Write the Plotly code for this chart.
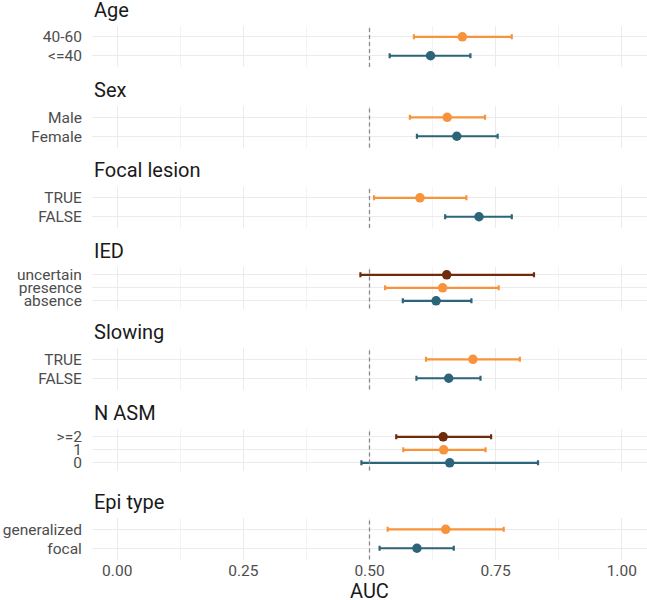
import plotly.graph_objects as go
from plotly.subplots import make_subplots

# ---------------- data ----------------
facet_order = ["Age", "Sex", "Focal lesion", "IED", "Slowing", "N ASM", "Epi type"]
facet = ["Age", "Age", "Sex", "Sex", "Focal lesion", "Focal lesion",
         "IED", "IED", "IED", "Slowing", "Slowing",
         "N ASM", "N ASM", "N ASM", "Epi type", "Epi type"]
level = ["<=40", "40-60", "Female", "Male", "FALSE", "TRUE",
         "absence", "presence", "uncertain", "FALSE", "TRUE",
         "0", "1", ">=2", "focal", "generalized"]
auc = [0.621, 0.684, 0.673, 0.654, 0.717, 0.600,
       0.632, 0.645, 0.653, 0.657, 0.705,
       0.659, 0.647, 0.646, 0.594, 0.651]
lower = [0.540, 0.588, 0.594, 0.580, 0.650, 0.509,
         0.566, 0.531, 0.482, 0.593, 0.612,
         0.484, 0.567, 0.553, 0.520, 0.536]
upper = [0.700, 0.782, 0.754, 0.729, 0.782, 0.692,
         0.702, 0.756, 0.826, 0.720, 0.798,
         0.834, 0.730, 0.741, 0.667, 0.766]
x_ticks = [0.0, 0.25, 0.5, 0.75, 1.0]
x_tick_labels = ["0.00", "0.25", "0.50", "0.75", "1.00"]
reference_auc = 0.5
x_title = "AUC"

# ---------------- style ----------------
palette = ["#2C6479", "#F7943B", "#6E2C0C"]
FONT = "Roboto"
W, H = 647, 600
M_T, M_B, M_L, M_R = 0, 40, 92, 0
PH = H - M_T - M_B
panel_tops = [25.5, 106, 186.5, 267, 348, 429, 518]
panel_h = 41.6
grid_col = "#ebebeb"
minor_col = "#f3f3f3"

n = len(facet_order)
fig = make_subplots(rows=n, cols=1, shared_xaxes=True, vertical_spacing=0.01)

minor_vals = [(a + b) / 2 for a, b in zip(x_ticks[:-1], x_ticks[1:])]

for i, f in enumerate(facet_order):
    idx = [k for k in range(len(facet)) if facet[k] == f]
    levs = [level[k] for k in idx]
    for j, k in enumerate(idx):
        c = palette[j]
        fig.add_trace(go.Scatter(
            x=[auc[k]], y=[level[k]], mode="markers",
            marker=dict(color=c, size=9.5, line=dict(width=0)),
            error_x=dict(type="data", symmetric=False,
                         array=[upper[k] - auc[k]],
                         arrayminus=[auc[k] - lower[k]],
                         color=c, thickness=2.2, width=2.5),
            showlegend=False, hoverinfo="skip"),
            row=i + 1, col=1)
    top = panel_tops[i]
    dom = [1 - (top + panel_h) / PH, 1 - top / PH]
    ykey = "yaxis" if i == 0 else f"yaxis{i + 1}"
    xkey = "xaxis" if i == 0 else f"xaxis{i + 1}"
    fig.layout[ykey].update(
        domain=dom, type="category", categoryorder="array", categoryarray=levs,
        tickmode="array", tickvals=levs, ticktext=levs,
        range=[-0.6, len(levs) - 0.4], showgrid=True, gridcolor=grid_col,
        gridwidth=1, zeroline=False, showline=False, automargin=False,
        ticks="outside", ticklen=6, tickcolor="rgba(0,0,0,0)",
        tickfont=dict(family=FONT, size=15.5, color="#4d4d4d"), fixedrange=True)
    fig.layout[xkey].update(
        range=[-0.05, 1.05], tickmode="array", tickvals=x_ticks, ticktext=x_tick_labels,
        showgrid=True, gridcolor=grid_col, gridwidth=1,
        zeroline=False, showline=False, automargin=False,
        minor=dict(tickmode="array", tickvals=minor_vals, showgrid=True,
                   gridcolor=minor_col, gridwidth=0.7),
        ticks="", fixedrange=True,
        tickfont=dict(family=FONT, size=15.5, color="#4d4d4d"),
        showticklabels=(i == n - 1))
    xr = "x" if i == 0 else f"x{i + 1}"
    yr = "y" if i == 0 else f"y{i + 1}"
    fig.add_shape(type="line", xref=xr, yref=f"{yr} domain",
                  x0=reference_auc, x1=reference_auc, y0=0, y1=1,
                  line=dict(color="#8a8a8a", width=1.3, dash="4px,3px"),
                  layer="above")
    fig.add_annotation(text=f, xref="paper", yref="paper", x=0, xanchor="left",
                       y=1 - (top - 16) / PH, yanchor="middle", showarrow=False,
                       font=dict(family=FONT, size=20, color="#1a1a1a"))

fig.add_annotation(text=x_title, xref="paper", yref="paper", x=0.5, xanchor="center",
                   y=1 - (591 - M_T) / PH, yanchor="middle", showarrow=False,
                   font=dict(family=FONT, size=20, color="#1a1a1a"))

fig.update_layout(
    width=W, height=H, margin=dict(l=M_L, r=M_R, t=M_T, b=M_B, autoexpand=False),
    plot_bgcolor="white", paper_bgcolor="white", showlegend=False,
    font=dict(family=FONT))

fig.write_html("out.html", config={"displayModeBar": False},
               post_script="document.body.style.margin='0';document.body.style.padding='0';")
